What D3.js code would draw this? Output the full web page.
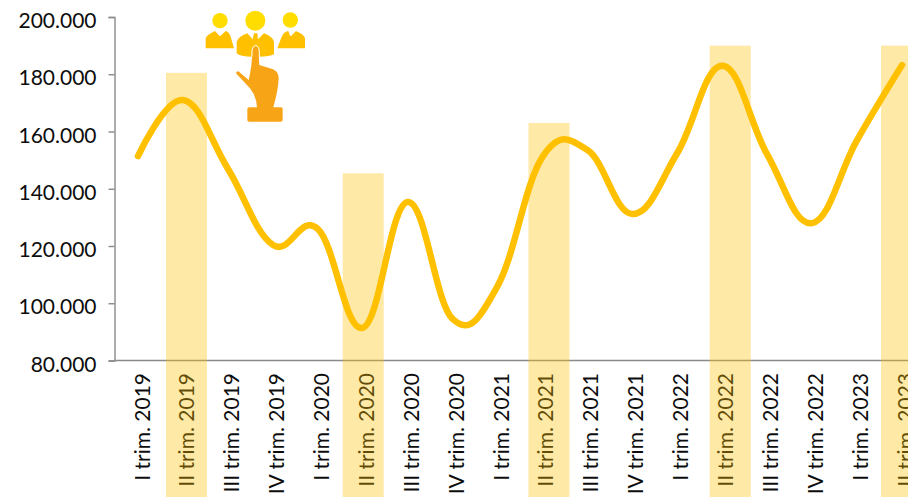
<!DOCTYPE html>
<html>
<head>
<meta charset="utf-8">
<script src="https://cdn.jsdelivr.net/npm/d3@7/dist/d3.min.js"></script>
<style>
html,body{margin:0;padding:0;background:#fff;overflow:hidden}
svg{display:block}
text{font-family:Lato,"Noto Sans",sans-serif;fill:#0d0d0d}
</style>
</head>
<body>
<svg id="c" width="908" height="497"></svg>
<script>
const categories = ["I trim. 2019","II trim. 2019","III trim. 2019","IV trim. 2019",
 "I trim. 2020","II trim. 2020","III trim. 2020","IV trim. 2020",
 "I trim. 2021","II trim. 2021","III trim. 2021","IV trim. 2021",
 "I trim. 2022","II trim. 2022","III trim. 2022","IV trim. 2022",
 "I trim. 2023","II trim. 2023"];
const values = [151400,171000,147000,120400,126000,91400,135400,94500,106000,151100,153500,131200,152500,183000,152000,128000,157000,183200];
const barCategories = ["II trim. 2019","II trim. 2020","II trim. 2021","II trim. 2022","II trim. 2023"];
const barValues = [180500,145400,163000,190000,190000];
const yTicks = [80000,100000,120000,140000,160000,180000,200000];

const W = 908, H = 497;
const svg = d3.select("#c");
const y = d3.scaleLinear().domain([80000,200000]).range([360.5,17]);
const xLine = d3.scalePoint().domain(categories).range([138,902]);
const xLabel = d3.scalePoint().domain(categories).range([141,904]);
const barNudge = [3.5,0.5,6.5,8,-0.5];
const fontSize = 21;
const fmt = d3.formatLocale({decimal:",",thousands:".",grouping:[3],currency:["",""]}).format(",d");

// y axis
const gy = svg.append("g").attr("transform","translate(114.5,0)")
  .call(d3.axisLeft(y).tickValues(yTicks).tickSize(6).tickPadding(12).tickFormat(fmt));
gy.selectAll("path,line").attr("stroke","#8a8a8a").attr("stroke-width",1.4);
gy.selectAll("text").attr("font-size",fontSize).attr("dy","0.5em").style("font-family",'Lato,sans-serif');

// x axis
svg.append("line").attr("x1",114.5).attr("x2",W).attr("y1",y(80000)).attr("y2",y(80000))
  .attr("stroke","#8a8a8a").attr("stroke-width",1.6);
svg.append("g").selectAll("text").data(categories).join("text")
  .attr("transform",d=>`translate(${xLabel(d)},373) rotate(-90)`)
  .attr("text-anchor","end").attr("dominant-baseline","central")
  .attr("font-size",fontSize).text(d=>d);

// translucent highlight bars (run down past the labels)
svg.append("g").selectAll("rect").data(barCategories).join("rect")
  .attr("x",(d,i)=>xLine(d)+barNudge[i]-20.5)
  .attr("width",41)
  .attr("y",(d,i)=>y(barValues[i]))
  .attr("height",(d,i)=>H-y(barValues[i]))
  .attr("fill","#FFC000").attr("fill-opacity",0.35);

// line
const line = d3.line().x((d,i)=>xLine(categories[i])).y(d=>y(d)).curve(d3.curveCardinal.tension(-0.18));
svg.append("path").datum(values).attr("d",line)
  .attr("fill","none").attr("stroke","#FFC000").attr("stroke-width",6.5)
  .attr("stroke-linecap","round").attr("stroke-linejoin","round");

// pictogram
const ic = svg.append("g").attr("transform","translate(190,0) scale(0.3333)");
[[90,62,23],[196,62,30],[301,60,23]].forEach(c=>ic.append("circle").attr("cx",c[0]).attr("cy",c[1]).attr("r",c[2]).attr("fill","#FFDD00"));
const body = "#FFC000";
ic.append("path").attr("fill",body).attr("d","M47,145L47,115Q50,105 75,93L88,107L92,107L107,93Q118,97 122,110L132,145Z");
ic.append("path").attr("fill",body).attr("d","M262,145L275,110Q280,97 295,93L300,107L304,107L318,93Q342,103 345,115L345,145Z");
ic.append("path").attr("fill",body).attr("d","M140,125Q145,110 172,100L188,118L192,100L202,100L204,118L222,100Q248,110 252,125L252,163Q240,170 205,170L187,170Q150,170 140,160Z");
ic.append("path").attr("fill","#F7A416")
  .attr("d","M187,150Q190,140 197,140Q205,142 206,155L208,195L240,205Q265,210 266,235Q265,270 250,322L273,322Q278,322 278,328L278,360Q278,365 272,365L178,365Q172,365 172,360L172,328Q172,322 178,322L201,322Q200,290 180,265L140,222Q135,215 145,214L176,240Q186,200 187,150Z");
ic.append("path").attr("fill","none").attr("stroke","#fff").attr("stroke-width",3)
  .attr("d","M186,170L186,150Q190,136 197,136Q207,138 208,155L208,172");
</script>
</body>
</html>
